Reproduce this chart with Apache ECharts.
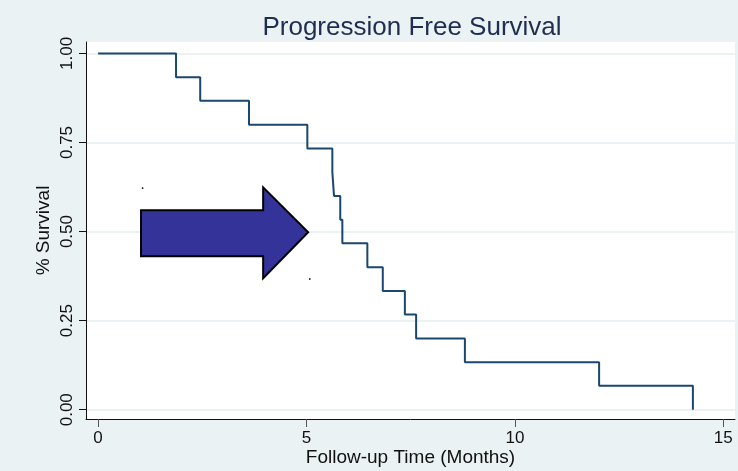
<!DOCTYPE html>
<html>
<head>
<meta charset="utf-8">
<script src="https://cdn.jsdelivr.net/npm/echarts@6/dist/echarts.min.js"></script>
<style>
  html, body { margin: 0; padding: 0; background: #eaf2f3; }
  #chart { width: 738px; height: 471px; }
</style>
</head>
<body>
<div id="chart"></div>
<script>
// Kaplan–Meier estimate: time of each event (months) and survival after it
const months   = [0, 1.87, 2.45, 3.62, 5.02, 5.62, 5.66, 5.81, 5.86, 6.46, 6.83, 7.36, 7.63, 8.80, 12.02, 14.27];
const survival = [1.000, 0.933, 0.867, 0.800, 0.733, 0.667, 0.600, 0.533, 0.467, 0.400, 0.333, 0.267, 0.200, 0.133, 0.067, 0.000];

const xTicks = [0, 5, 10, 15];
const yTicks = [0, 0.25, 0.5, 0.75, 1];

const FONT = "'Liberation Sans', Arial, sans-serif";

const chart = echarts.init(document.getElementById('chart'), null, { renderer: 'canvas' });

const curve = months.map((t, i) => [t, survival[i]]);

chart.setOption({
  backgroundColor: '#eaf2f3',
  animation: false,
  title: {
    text: 'Progression Free Survival',
    left: 407, top: 10, textAlign: 'center',
    textStyle: { fontFamily: FONT, fontSize: 26, fontWeight: 'normal', color: '#1f2d50' }
  },
  grid: {
    left: 86, right: 3, top: 42, bottom: 52,
    outerBoundsMode: 'none', containLabel: false,
    show: true, backgroundColor: '#ffffff', borderWidth: 0
  },
  xAxis: {
    type: 'value', min: -0.29, max: 15.28,
    name: 'Follow-up Time (Months)', nameLocation: 'middle', nameGap: 29, nameMoveOverlap: false,
    nameTextStyle: { fontFamily: FONT, fontSize: 19, color: '#111' },
    axisLine: { show: true, onZero: false, lineStyle: { color: '#111', width: 1 } },
    axisTick: { show: true, length: 8, customValues: xTicks, lineStyle: { color: '#555' } },
    axisLabel: { customValues: xTicks, margin: 11, fontFamily: FONT, fontSize: 17, color: '#111',
                 formatter: v => String(v) },
    splitLine: { show: false }
  },
  yAxis: {
    type: 'value', min: -0.026, max: 1.032,
    name: '% Survival', nameLocation: 'middle', nameGap: 33, nameRotate: 90, nameMoveOverlap: false,
    nameTextStyle: { fontFamily: FONT, fontSize: 19, color: '#111' },
    axisLine: { show: true, onZero: false, lineStyle: { color: '#111', width: 1 } },
    axisTick: { show: true, length: 7, customValues: yTicks, lineStyle: { color: '#111' } },
    axisLabel: { customValues: yTicks, rotate: 90, margin: 10, fontFamily: FONT, fontSize: 17, color: '#111',
                 formatter: v => v.toFixed(2) },
    splitLine: { show: true, lineStyle: { color: '#eaf2f3', width: 2 } }
  },
  series: [{
    type: 'line',
    step: 'end',
    data: curve,
    symbol: 'none',
    lineStyle: { color: '#1a476f', width: 2 },
    clip: false
  }]
});

// Annotation arrow, placed in data space so it follows the axes
function drawArrow() {
  const p = (x, y) => chart.convertToPixel({ gridIndex: 0 }, [x, y]);
  const tail = 1.03, base = 3.96, tip = 5.04;
  const bodyTop = 0.560, bodyBot = 0.431, headTop = 0.624, headBot = 0.369, mid = 0.498;
  const pts = [
    p(tail, bodyTop), p(base, bodyTop), p(base, headTop), p(tip, mid),
    p(base, headBot), p(base, bodyBot), p(tail, bodyBot)
  ];
  const corner1 = p(tail + 0.02, headTop);
  const corner2 = p(tip + 0.02, headBot);
  chart.setOption({
    graphic: [
      { type: 'polygon', shape: { points: pts }, z: 100,
        style: { fill: '#333399', stroke: '#000', lineWidth: 2, lineJoin: 'miter' } },
      { type: 'rect', shape: { x: corner1[0], y: corner1[1], width: 1.5, height: 1.5 }, z: 100,
        style: { fill: '#000' } },
      { type: 'rect', shape: { x: corner2[0], y: corner2[1], width: 1.5, height: 1.5 }, z: 100,
        style: { fill: '#000' } }
    ]
  });
}
drawArrow();
</script>
</body>
</html>
